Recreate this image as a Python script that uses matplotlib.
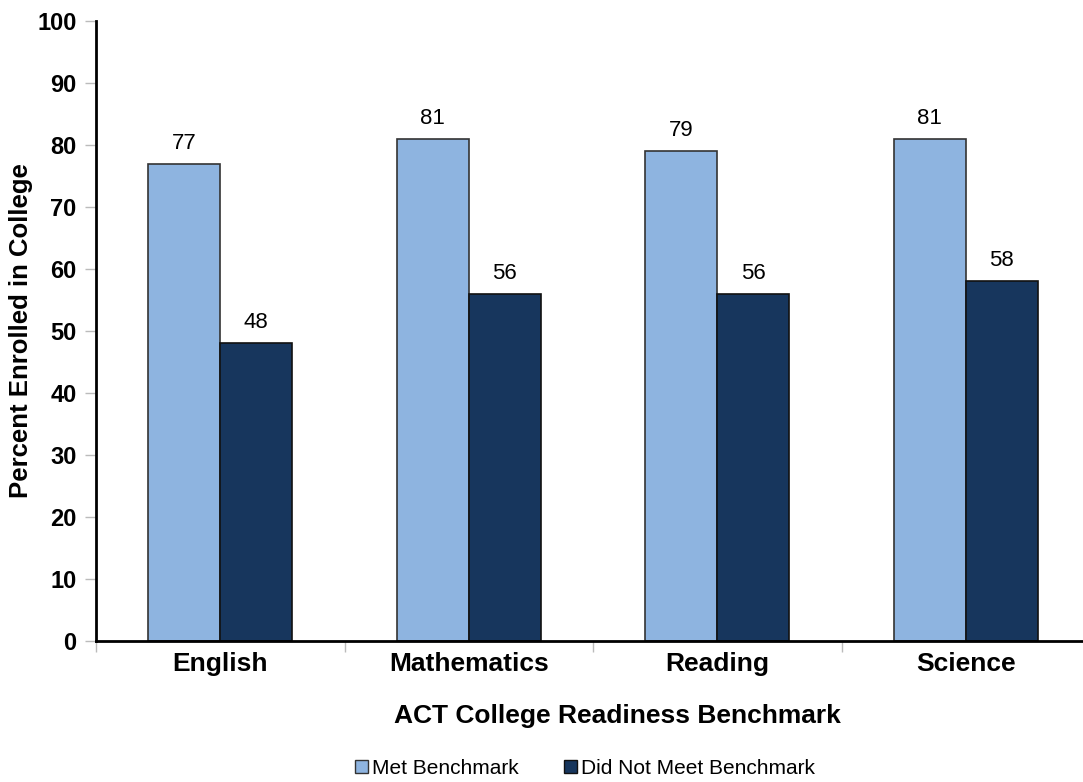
import numpy as np
from matplotlib import pyplot as plt
from matplotlib.patches import Patch

plt.rcParams['font.family'] = ['Liberation Sans', 'DejaVu Sans']

# Dane
categories = ['English', 'Mathematics', 'Reading', 'Science']
met = [77, 81, 79, 81]
not_met = [48, 56, 56, 58]
series_names = ['Met Benchmark', 'Did Not Meet Benchmark']
yticks = [0, 10, 20, 30, 40, 50, 60, 70, 80, 90, 100]

c_met = '#8EB4E0'
c_not = '#17365D'

fig = plt.figure(figsize=(10.83, 7.82), dpi=100)
ax = fig.add_axes([96/1083, 141/782, 994/1083, 620/782])

x = np.arange(len(categories))
w = 0.29
b1 = ax.bar(x - w/2, met, w, color=c_met, edgecolor='#333333', linewidth=1.2)
b2 = ax.bar(x + w/2, not_met, w, color=c_not, edgecolor='#111111', linewidth=1.2)

for bars, vals in [(b1, met), (b2, not_met)]:
    for b, v in zip(bars, vals):
        ax.text(b.get_x() + b.get_width()/2, v + 1.6, str(v),
                ha='center', va='bottom', fontsize=16)

ax.set_xlim(-0.5, len(categories) - 0.5)
ax.set_ylim(0, 100)
ax.set_yticks(yticks)
ax.set_yticklabels([str(t) for t in yticks], fontsize=17, fontweight='bold')
ax.tick_params(axis='y', direction='out', length=8, width=1, color='#BBBBBB', pad=6)

ax.set_xticks(np.arange(len(categories) + 1) - 0.5, minor=False)
ax.set_xticklabels([])
ax.tick_params(axis='x', direction='out', length=8, width=1, color='#BBBBBB')
ax.set_xticks(x, minor=True)
ax.set_xticklabels(categories, minor=True, fontsize=19, fontweight='bold')
ax.tick_params(axis='x', which='minor', length=0, pad=8)

for s in ['top', 'right']:
    ax.spines[s].set_visible(False)
ax.spines['left'].set_linewidth(2)
ax.spines['bottom'].set_linewidth(2)

ax.set_ylabel('Percent Enrolled in College', fontsize=18.5, fontweight='bold', va='center')
ax.yaxis.set_label_coords((21 - 96) / 994, 0.5)
ax.set_xlabel('ACT College Readiness Benchmark', fontsize=19, fontweight='bold', va='center')
ax.xaxis.set_label_coords((617 - 96) / 994, (641 - 716) / 620)

handles = [Patch(facecolor=c_met, edgecolor='#333333'),
           Patch(facecolor=c_not, edgecolor='#111111')]
fig.legend(handles, series_names, loc='center', bbox_to_anchor=(585/1083, 1 - 768/782),
           ncol=2, frameon=False, fontsize=15, handlelength=0.6, handleheight=0.6,
           handletextpad=0.2, columnspacing=2.2)

fig.savefig('out.png', dpi=100)
